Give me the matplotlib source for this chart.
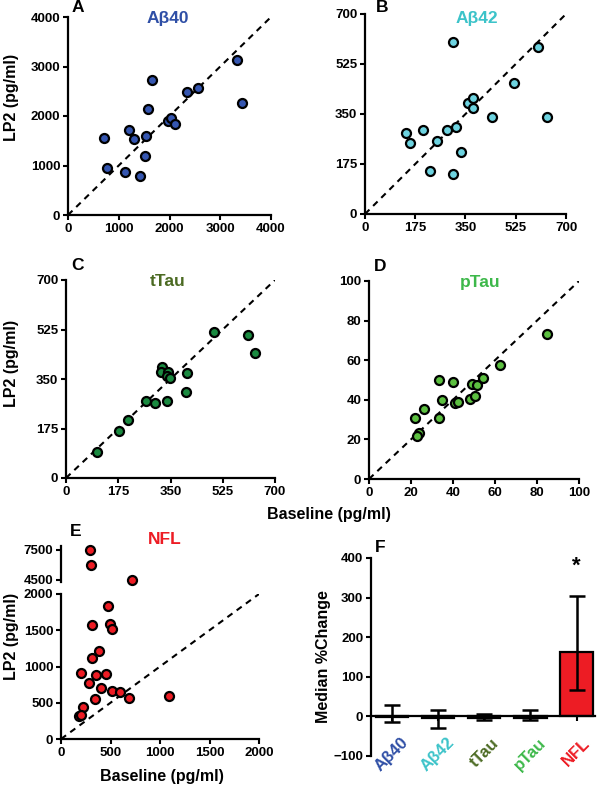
import matplotlib.pyplot as plt

plt.rcParams['font.family'] = ['Liberation Sans', 'DejaVu Sans']
plt.rcParams['font.weight'] = 'bold'
plt.rcParams['axes.labelweight'] = 'bold'

# ---- data ----
ab40_base = [712, 764, 1193, 1292, 1127, 1417, 1516, 1535, 1575, 1647, 1964, 2023, 2109, 2346, 2563, 3328, 3433]
ab40_lp2 = [1560, 955, 1714, 1533, 867, 780, 1183, 1587, 2138, 2736, 1903, 1956, 1829, 2487, 2575, 3139, 2266]

ab42_base = [308, 602, 519, 360, 376, 376, 443, 634, 143, 155, 202, 250, 287, 316, 335, 226, 308]
ab42_lp2 = [601, 584, 458, 387, 406, 370, 338, 341, 285, 248, 295, 256, 295, 304, 217, 150, 141]

ttau_base = [103, 176, 208, 269, 298, 338, 323, 319, 341, 338, 348, 404, 401, 496, 609, 633]
ttau_lp2 = [92, 167, 205, 273, 265, 272, 392, 375, 376, 359, 354, 372, 304, 516, 506, 442]

ptau_base = [21.9, 26.2, 23.8, 23.0, 33.2, 33.5, 34.9, 39.8, 40.8, 42.2, 48.1, 49.2, 50.3, 51.6, 54.1, 62.2, 84.6]
ptau_lp2 = [30.9, 35.6, 23.1, 21.6, 50.1, 31.0, 39.8, 49.2, 38.6, 38.8, 40.6, 47.9, 41.8, 47.6, 50.9, 57.8, 73.2]

nfl_base = [293, 303, 714, 478, 495, 512, 313, 387, 313, 199, 354, 455, 283, 401, 512, 596, 684, 1094, 340, 226, 178, 199]
nfl_lp2 = [7500, 6000, 4530, 1829, 1581, 1516, 1571, 1212, 1124, 908, 889, 894, 770, 710, 668, 654, 571, 594, 548, 442, 318, 332]

markers = ['Aβ40', 'Aβ42', 'tTau', 'pTau', 'NFL']
median_change = [-2, -3, -3, -5, 162]
err_low = [-14, -30, -10, -8, 66]
err_high = [28, 17, 7, 17, 305]

title_colors = ['#2f4fa6', '#3cc3c9', '#4b6a22', '#3db84a', '#ed1c24']
dot_colors = ['#3556b0', '#6dd3e0', '#1a8a40', '#5cc040', '#ed1c24']

W, H = 600, 785
fig = plt.figure(figsize=(6, 7.85), dpi=100)

TICK_FS = 9.5
LABEL_FS = 11.5
TITLE_FS = 12.5
LETTER_FS = 12.5


def box(l, t, r, b):
    return [l / W, 1 - b / H, (r - l) / W, (b - t) / H]


def style(ax):
    for s in ['top', 'right']:
        ax.spines[s].set_visible(False)
    for s in ['left', 'bottom']:
        ax.spines[s].set_linewidth(1.6)
    ax.tick_params(direction='out', length=3.5, width=1.5, labelsize=TICK_FS, pad=2)


def scatter_panel(rect, x, y, lim, ticks, ci, title, tpos, letter, lpos):
    ax = fig.add_axes(rect)
    style(ax)
    ax.plot([0, lim], [0, lim], color='black', ls=(0, (3, 2.5)), lw=1.5, zorder=1)
    ax.scatter(x, y, s=42, color=dot_colors[ci], edgecolor='black', linewidth=1.6, zorder=3, clip_on=False)
    ax.set_xlim(0, lim)
    ax.set_ylim(0, lim)
    ax.set_xticks(ticks)
    ax.set_yticks(ticks)
    fig.text(tpos[0] / W, 1 - tpos[1] / H, title, color=title_colors[ci], fontsize=TITLE_FS,
             ha='center', va='center')
    fig.text(lpos[0] / W, 1 - lpos[1] / H, letter, fontsize=LETTER_FS, ha='center', va='center')
    return ax


scatter_panel(box(68, 17, 271, 215), ab40_base, ab40_lp2, 4000, [0, 1000, 2000, 3000, 4000],
              0, 'Aβ40', (168, 18), 'A', (78, 8))
scatter_panel(box(365, 14, 566, 214), ab42_base, ab42_lp2, 700, [0, 175, 350, 525, 700],
              1, 'Aβ42', (477, 18), 'B', (382, 8))
scatter_panel(box(66, 280, 275, 478), ttau_base, ttau_lp2, 700, [0, 175, 350, 525, 700],
              2, 'tTau', (168, 282), 'C', (77, 266))
scatter_panel(box(369, 281, 579, 479), ptau_base, ptau_lp2, 100, [0, 20, 40, 60, 80, 100],
              3, 'pTau', (480, 283), 'D', (380, 267))

# ---- panel E, broken y axis ----
axe = fig.add_axes(box(61, 594, 259, 739))
style(axe)
axe.plot([0, 2000], [0, 2000], color='black', ls=(0, (3, 2.5)), lw=1.5, zorder=1)
axe.scatter(nfl_base, nfl_lp2, s=42, color=dot_colors[4], edgecolor='black', linewidth=1.6, zorder=3)
axe.set_xlim(0, 2000)
axe.set_ylim(0, 2000)
axe.set_xticks([0, 500, 1000, 1500, 2000])
axe.set_yticks([0, 500, 1000, 1500, 2000])

axu = fig.add_axes(box(61, 546, 259, 582))
style(axu)
axu.spines['bottom'].set_visible(False)
axu.patch.set_alpha(0)
hi_x = [x for x, y in zip(nfl_base, nfl_lp2) if y > 2000]
hi_y = [y for y in nfl_lp2 if y > 2000]
axu.scatter(hi_x, hi_y, s=42, color=dot_colors[4], edgecolor='black', linewidth=1.6,
            zorder=3, clip_on=False)
axu.set_xlim(0, 2000)
axu.set_ylim(4290, 7900)
axu.set_xticks([])
axu.set_yticks([4500, 7500])
fig.text(165 / W, 1 - 540 / H, 'NFL', color=title_colors[4], fontsize=TITLE_FS, ha='center', va='center')
fig.text(76 / W, 1 - 532 / H, 'E', fontsize=LETTER_FS, ha='center', va='center')

# axis labels
for yc in [97, 363, 636]:
    fig.text(12 / W, 1 - yc / H, 'LP2 (pg/ml)', rotation=90, fontsize=LABEL_FS, ha='center', va='center')
fig.text(329 / W, 1 - 515 / H, 'Baseline (pg/ml)', fontsize=LABEL_FS, ha='center', va='center')
fig.text(162 / W, 1 - 777 / H, 'Baseline (pg/ml)', fontsize=LABEL_FS, ha='center', va='center')

# ---- panel F, median % change ----
axf = fig.add_axes(box(371, 558, 595, 756))
style(axf)
pos = list(range(len(markers)))
yerr = [[m - lo for m, lo in zip(median_change, err_low)],
        [hi - m for m, hi in zip(median_change, err_high)]]
axf.bar(pos, median_change, width=0.7, color=dot_colors, edgecolor='black', linewidth=1.6, zorder=2)
axf.errorbar(pos, median_change, yerr=yerr, fmt='none', ecolor='black', elinewidth=1.8,
             capsize=6, capthick=1.8, zorder=3)
axf.spines['bottom'].set_position(('data', 0))
axf.set_xlim(-0.45, 4.4)
axf.set_ylim(-100, 400)
axf.set_yticks([-100, 0, 100, 200, 300, 400])
axf.set_xticks(pos)
axf.set_xticklabels(markers, rotation=45, ha='center', fontsize=12)
axf.tick_params(axis='x', pad=10)
for lab, c in zip(axf.get_xticklabels(), title_colors):
    lab.set_color(c)
axf.set_ylabel('Median %Change', fontsize=LABEL_FS, labelpad=2)
axf.text(4, 380, '*', fontsize=16, ha='center', va='center')
fig.text(380 / W, 1 - 547 / H, 'F', fontsize=LETTER_FS, ha='center', va='center')

fig.savefig('out.png', dpi=100)
